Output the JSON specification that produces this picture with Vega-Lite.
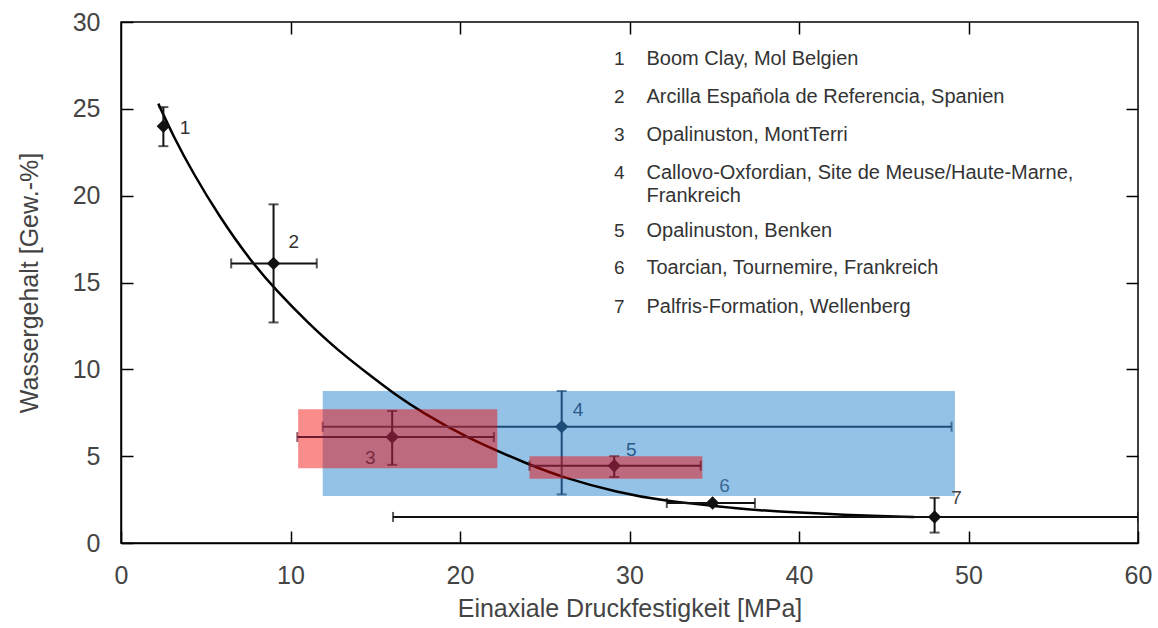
{
  "$schema": "https://vega.github.io/schema/vega-lite/v6.json",
  "width": 1017,
  "height": 521,
  "autosize": {"type": "none"},
  "padding": {"left": 121, "top": 22, "right": 20, "bottom": 85},
  "background": "white",
  "config": {
    "view": {"stroke": "#000", "strokeWidth": 1.5},
    "font": "Liberation Sans",
    "axis": {
      "grid": false,
      "labelFont": "Liberation Sans",
      "labelFontSize": 25,
      "labelColor": "#444",
      "labelFlush": false,
      "titleFont": "Liberation Sans",
      "titleFontSize": 25,
      "titleFontWeight": "normal",
      "titleColor": "#444",
      "domainColor": "#000",
      "domainWidth": 1.5,
      "tickColor": "#000",
      "tickWidth": 1.5,
      "tickSize": -12
    }
  },
  "datasets": {
    "points": [
      {"id": "1", "x": 2.5, "y": 24.0},
      {"id": "2", "x": 9.0, "y": 16.1},
      {"id": "3", "x": 16.0, "y": 6.1},
      {"id": "4", "x": 26.0, "y": 6.7},
      {"id": "5", "x": 29.1, "y": 4.45},
      {"id": "6", "x": 34.9, "y": 2.3},
      {"id": "7", "x": 48.0, "y": 1.5}
    ],
    "vbars": [
      {"id": "1", "x": 2.5, "lo": 22.85, "hi": 25.1},
      {"id": "2", "x": 9.0, "lo": 12.7, "hi": 19.5},
      {"id": "3", "x": 16.0, "lo": 4.5, "hi": 7.6},
      {"id": "4", "x": 26.0, "lo": 2.8, "hi": 8.75},
      {"id": "5", "x": 29.1, "lo": 3.8, "hi": 5.0},
      {"id": "7", "x": 48.0, "lo": 0.6, "hi": 2.6}
    ],
    "hbars": [
      {"id": "2", "y": 16.1, "lo": 6.5, "hi": 11.55},
      {"id": "3", "y": 6.1, "lo": 10.4, "hi": 22.0},
      {"id": "4", "y": 6.7, "lo": 11.9, "hi": 49.0},
      {"id": "5", "y": 4.45, "lo": 24.1, "hi": 34.2},
      {"id": "6", "y": 2.3, "lo": 32.2, "hi": 37.4},
      {"id": "7", "y": 1.5, "lo": 16.05, "hi": 60.0}
    ],
    "blue": [{"x": 11.9, "x2": 49.2, "y": 2.7, "y2": 8.75}],
    "red": [
      {"x": 10.45, "x2": 22.2, "y": 4.3, "y2": 7.7},
      {"x": 24.1, "x2": 34.3, "y": 3.7, "y2": 5.0}
    ],
    "curve": [
      {"x": 2.2, "y": 25.3},
      {"x": 3.1, "y": 23.4},
      {"x": 4.25, "y": 21.3},
      {"x": 5.8, "y": 18.8},
      {"x": 7.6, "y": 16.3},
      {"x": 9.2, "y": 14.5},
      {"x": 11.0, "y": 12.7},
      {"x": 12.9, "y": 11.0},
      {"x": 14.9, "y": 9.5},
      {"x": 16.1, "y": 8.6},
      {"x": 17.8, "y": 7.5},
      {"x": 20.3, "y": 6.1},
      {"x": 24.1, "y": 4.5},
      {"x": 26.0, "y": 3.8},
      {"x": 29.3, "y": 2.9},
      {"x": 32.2, "y": 2.4},
      {"x": 34.9, "y": 2.15},
      {"x": 37.1, "y": 1.9},
      {"x": 43.0, "y": 1.6},
      {"x": 46.8, "y": 1.5}
    ],
    "labels": [
      {"id": "1", "x": 3.78, "y": 23.9},
      {"id": "2", "x": 10.2, "y": 17.33},
      {"id": "3", "x": 14.7, "y": 4.89},
      {"id": "4", "x": 26.96, "y": 7.66},
      {"id": "5", "x": 30.1, "y": 5.35},
      {"id": "6", "x": 35.6, "y": 3.28},
      {"id": "7", "x": 49.3, "y": 2.59}
    ],
    "legend": [
      {"num": "1", "x": 29.4, "tx": 31.0, "y": 27.52, "text": "Boom Clay, Mol Belgien"},
      {"num": "2", "x": 29.4, "tx": 31.0, "y": 25.33, "text": "Arcilla Española de Referencia, Spanien"},
      {"num": "3", "x": 29.4, "tx": 31.0, "y": 23.14, "text": "Opalinuston, MontTerri"},
      {"num": "4", "x": 29.4, "tx": 31.0, "y": 20.96, "text": "Callovo-Oxfordian, Site de Meuse/Haute-Marne,\nFrankreich"},
      {"num": "5", "x": 29.4, "tx": 31.0, "y": 17.62, "text": "Opalinuston, Benken"},
      {"num": "6", "x": 29.4, "tx": 31.0, "y": 15.49, "text": "Toarcian, Tournemire, Frankreich"},
      {"num": "7", "x": 29.4, "tx": 31.0, "y": 13.24, "text": "Palfris-Formation, Wellenberg"}
    ]
  },
  "resolve": {
    "axis": {"x": "independent", "y": "independent"},
    "scale": {"color": "independent"}
  },
  "layer": [
    {
      "data": {"name": "blue"},
      "mark": {"type": "rect", "color": "#93c2e6"},
      "encoding": {
        "x": {"field": "x", "type": "quantitative", "scale": {"domain": [0, 60], "nice": false, "zero": false},
              "axis": {"orient": "bottom", "values": [0, 10, 20, 30, 40, 50, 60], "title": "Einaxiale Druckfestigkeit [MPa]", "labelPadding": 32, "titlePadding": 8}},
        "x2": {"field": "x2"},
        "y": {"field": "y", "type": "quantitative", "scale": {"domain": [0, 30], "nice": false, "zero": false},
              "axis": {"orient": "left", "values": [0, 5, 10, 15, 20, 25, 30], "title": "Wassergehalt [Gew.-%]", "labelPadding": 33, "titlePadding": 30}},
        "y2": {"field": "y2"}
      }
    },
    {
      "data": {"name": "curve"},
      "mark": {"type": "line", "color": "#000", "strokeWidth": 2.5, "interpolate": "basis", "clip": true},
      "encoding": {
        "x": {"field": "x", "type": "quantitative",
              "axis": {"orient": "top", "values": [10, 20, 30, 40, 50], "labels": false, "title": null, "domain": false}},
        "y": {"field": "y", "type": "quantitative",
              "axis": {"orient": "right", "values": [5, 10, 15, 20, 25], "labels": false, "title": null, "domain": false}}
      }
    },
    {
      "data": {"name": "hbars"},
      "transform": [{"filter": "datum.id == '4'"}],
      "mark": {"type": "errorbar", "ticks": {"size": 10}, "thickness": 2},
      "encoding": {
        "x": {"field": "lo", "type": "quantitative", "axis": null, "title": null},
        "x2": {"field": "hi"},
        "y": {"field": "y", "type": "quantitative", "axis": null},
        "color": {"value": "#1d4c78"}
      }
    },
    {
      "data": {"name": "vbars"},
      "transform": [{"filter": "datum.id == '4'"}],
      "mark": {"type": "errorbar", "ticks": {"size": 10}, "thickness": 2},
      "encoding": {
        "y": {"field": "lo", "type": "quantitative", "axis": null, "title": null},
        "y2": {"field": "hi"},
        "x": {"field": "x", "type": "quantitative", "axis": null},
        "color": {"value": "#1d4c78"}
      }
    },
    {
      "data": {"name": "points"},
      "transform": [{"filter": "datum.id == '4'"}],
      "mark": {"type": "point", "shape": "diamond", "filled": true, "size": 180, "opacity": 1, "color": "#1d4c78"},
      "encoding": {
        "x": {"field": "x", "type": "quantitative", "axis": null},
        "y": {"field": "y", "type": "quantitative", "axis": null}
      }
    },
    {
      "data": {"name": "red"},
      "mark": {"type": "rect", "color": "#f50000", "opacity": 0.45},
      "encoding": {
        "x": {"field": "x", "type": "quantitative", "axis": null},
        "x2": {"field": "x2"},
        "y": {"field": "y", "type": "quantitative", "axis": null},
        "y2": {"field": "y2"}
      }
    },
    {
      "data": {"name": "hbars"},
      "transform": [{"filter": "datum.id != '4'"}],
      "mark": {"type": "errorbar", "ticks": {"size": 10}, "thickness": 2, "clip": true},
      "encoding": {
        "x": {"field": "lo", "type": "quantitative", "axis": null, "title": null},
        "x2": {"field": "hi"},
        "y": {"field": "y", "type": "quantitative", "axis": null},
        "color": {"field": "id", "type": "nominal", "legend": null,
                  "scale": {"domain": ["1", "2", "3", "4", "5", "6", "7"], "range": ["#111", "#111", "#6e1a30", "#1d4c78", "#6e1a30", "#111", "#111"]}}
      }
    },
    {
      "data": {"name": "vbars"},
      "transform": [{"filter": "datum.id != '4'"}],
      "mark": {"type": "errorbar", "ticks": {"size": 10}, "thickness": 2},
      "encoding": {
        "y": {"field": "lo", "type": "quantitative", "axis": null, "title": null},
        "y2": {"field": "hi"},
        "x": {"field": "x", "type": "quantitative", "axis": null},
        "color": {"field": "id", "type": "nominal", "legend": null,
                  "scale": {"domain": ["1", "2", "3", "4", "5", "6", "7"], "range": ["#111", "#111", "#6e1a30", "#1d4c78", "#6e1a30", "#111", "#111"]}}
      }
    },
    {
      "data": {"name": "points"},
      "transform": [{"filter": "datum.id != '4'"}],
      "mark": {"type": "point", "shape": "diamond", "filled": true, "size": 180, "opacity": 1},
      "encoding": {
        "x": {"field": "x", "type": "quantitative", "axis": null},
        "y": {"field": "y", "type": "quantitative", "axis": null},
        "color": {"field": "id", "type": "nominal", "legend": null,
                  "scale": {"domain": ["1", "2", "3", "4", "5", "6", "7"], "range": ["#111", "#111", "#6e1a30", "#1d4c78", "#6e1a30", "#111", "#111"]}}
      }
    },
    {
      "data": {"name": "labels"},
      "mark": {"type": "text", "font": "Liberation Sans", "fontSize": 19, "align": "center", "baseline": "middle"},
      "encoding": {
        "x": {"field": "x", "type": "quantitative", "axis": null},
        "y": {"field": "y", "type": "quantitative", "axis": null},
        "text": {"field": "id"},
        "color": {"field": "id", "type": "nominal", "legend": null,
                  "scale": {"domain": ["1", "2", "3", "4", "5", "6", "7"], "range": ["#333", "#333", "#7a2a40", "#2a5a88", "#2a5a88", "#3a6a98", "#444"]}}
      }
    },
    {
      "data": {"name": "legend"},
      "mark": {"type": "text", "font": "Liberation Sans", "fontSize": 19, "align": "center", "baseline": "alphabetic", "color": "#333"},
      "encoding": {
        "x": {"field": "x", "type": "quantitative", "axis": null},
        "y": {"field": "y", "type": "quantitative", "axis": null},
        "text": {"field": "num"}
      }
    },
    {
      "data": {"name": "legend"},
      "mark": {"type": "text", "font": "Liberation Sans", "fontSize": 20, "align": "left", "baseline": "alphabetic", "color": "#333", "lineBreak": "\n", "lineHeight": 23},
      "encoding": {
        "x": {"field": "tx", "type": "quantitative", "axis": null},
        "y": {"field": "y", "type": "quantitative", "axis": null},
        "text": {"field": "text"}
      }
    }
  ]
}
